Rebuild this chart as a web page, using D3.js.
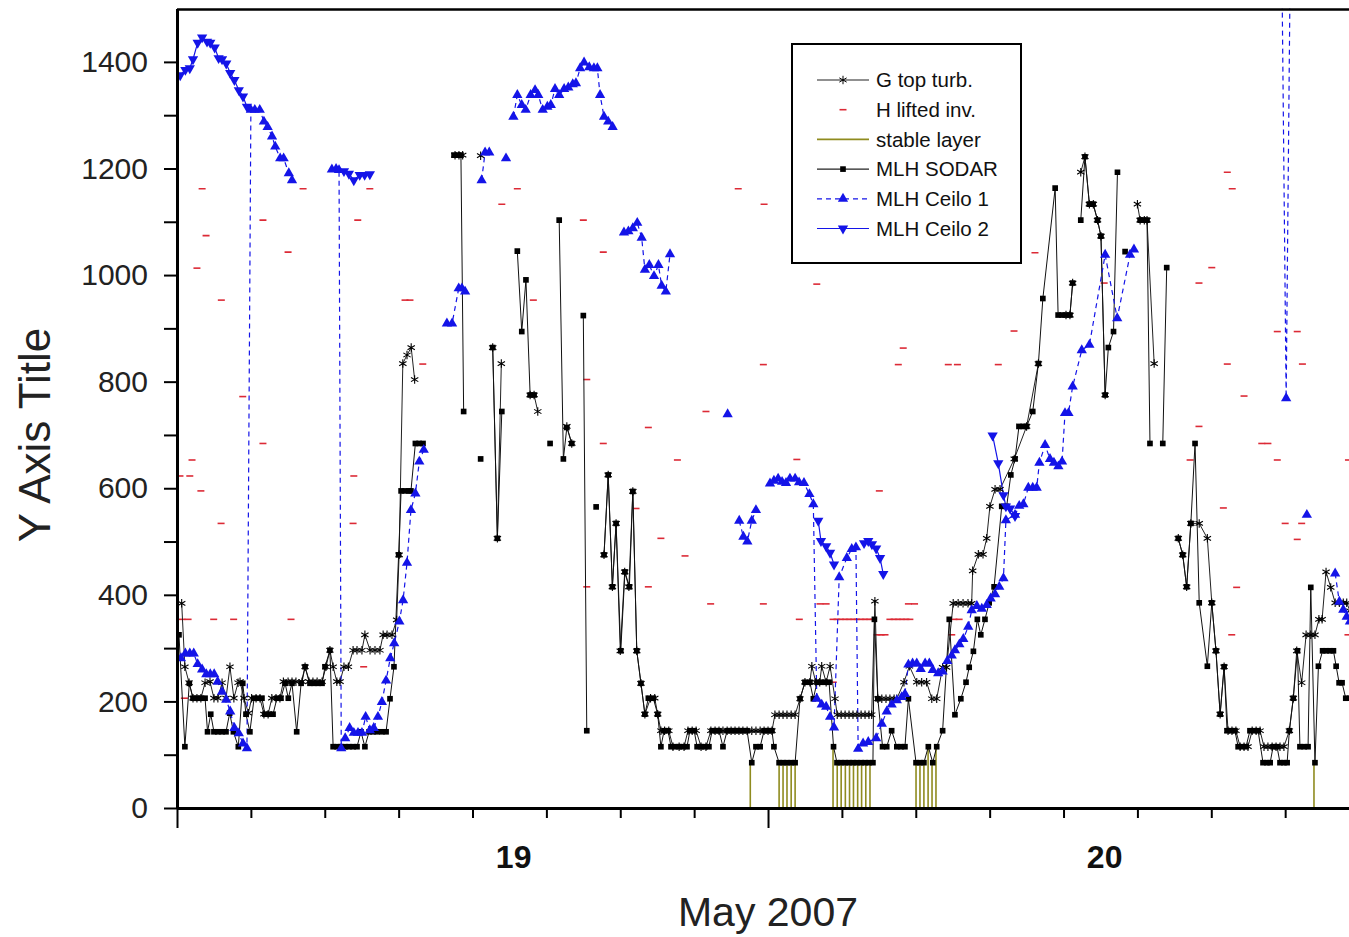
<!DOCTYPE html>
<html>
<head>
<meta charset="utf-8">
<title>MLH May 2007</title>
<style>
  body { margin: 0; background: #fff; }
  text { font-family: 'Liberation Sans', Arial, sans-serif; }
</style>
</head>
<body>
<svg width="1349" height="937"></svg>
<script src="https://cdn.jsdelivr.net/npm/d3@7"></script>
<script>
// x values are hours since the start of the axis, y values are metres; null = gap in the record
var ceilo2 = [
  [0.13,1375],[0.34,1385],[0.52,1388],[0.65,1405],[0.84,1436],[1.02,1446],[1.22,1438],[1.35,1436],[1.53,1427],
  [1.69,1407],[1.83,1405],[2.0,1397],[2.16,1379],[2.33,1366],[2.51,1347],[2.68,1335],[2.84,1316],null,
  [6.78,1195],[6.98,1190],[7.18,1178],[7.42,1188],[7.62,1188],[7.83,1189],null,
  [26.04,539],[26.15,501],[26.36,491],[26.52,479],[26.68,457],null,
  [27.9,497],[28.07,501],[28.22,495],[28.39,487],[28.55,469],[28.68,439],null,
  [33.12,699],[33.35,647],[33.56,587],[33.66,566],[33.83,562],[34.03,548]
];

var ceilo1 = [
  [0.16,281],[0.34,290],[0.52,290],[0.68,290],[0.84,270],[1.02,260],[1.19,251],[1.35,251],[1.51,251],[1.65,237],
  [1.83,218],[2.0,203],[2.16,181],[2.33,150],[2.51,140],[2.68,121],[2.84,112],[3.0,1310],[3.16,1310],[3.36,1310],
  [3.53,1288],[3.68,1278],[3.86,1260],[3.99,1241],[4.19,1219],[4.33,1219],[4.54,1191],[4.67,1178],null,
  [6.29,1198],[6.46,1199],[6.58,1197],[6.67,112],[6.83,131],[7.01,150],[7.18,141],[7.35,141],[7.51,141],[7.66,171],
  [7.83,146],[7.99,150],[8.16,171],[8.32,199],[8.49,239],[8.66,281],[8.82,309],[9.03,350],[9.18,390],[9.34,460],
  [9.5,559],[9.68,590],[9.84,650],[10.02,672],null,
  [10.96,909],[11.17,909],[11.44,975],[11.57,975],[11.7,969],null,
  [12.37,1178],[12.51,1230],[12.68,1230],null,
  [13.36,1219],null,
  [13.66,1297],[13.82,1338],[14.0,1319],[14.16,1310],[14.36,1338],[14.54,1347],[14.67,1338],[14.85,1310],[15.04,1316],
  [15.18,1319],[15.35,1349],[15.52,1338],[15.72,1349],[15.89,1352],[16.07,1358],[16.2,1360],[16.37,1388],[16.53,1399],
  [16.74,1390],[16.93,1388],[17.07,1388],[17.18,1338],[17.34,1297],[17.51,1288],[17.69,1278],null,
  [18.15,1080],[18.33,1082],[18.51,1088],[18.69,1098],[18.87,1070],[19.0,1010],[19.18,1019],[19.37,998],[19.55,1019],
  [19.68,980],[19.85,969],[20.02,1039],null,
  [22.36,739],null,
  [22.83,539],[23.0,509],[23.16,500],[23.34,539],[23.51,559],null,
  [24.08,609],[24.24,614],[24.41,618],[24.57,612],[24.73,610],[24.89,618],[25.1,618],[25.26,611],[25.46,610],[25.68,589],
  [25.84,570],[25.98,205],[26.18,194],[26.36,190],[26.52,171],[26.68,151],[26.89,433],[27.2,469],[27.4,486],[27.57,489],
  [27.66,111],[27.86,121],[28.07,124],[28.39,131],[28.62,158],[28.82,181],[29.02,194],[29.23,202],[29.43,208],[29.56,214],
  [29.7,269],[29.87,271],[30.04,271],[30.2,261],[30.38,271],[30.55,271],[30.69,259],[30.91,253],[31.09,256],[31.28,276],
  [31.46,286],[31.59,296],[31.77,307],[31.93,317],[32.13,340],[32.27,371],[32.48,379],[32.68,374],[32.88,381],[33.04,393],
  [33.22,401],[33.39,415],[33.56,431],[33.66,540],[34.03,550],[34.2,567],[34.37,570],[34.57,601],[34.75,601],[34.91,601],
  [35.02,648],[35.25,681],[35.45,655],[35.61,648],[35.79,641],[35.94,650],[36.06,741],[36.2,741],[36.37,791],[36.74,859],
  [37.05,869],[37.69,1038],[38.18,919],[38.7,1038],[38.86,1048],null,
  [44.87,1560],[45.04,769],[45.2,1560],null,
  [45.88,550],null,
  [47.03,440],[47.2,387],[47.36,372],[47.5,359],[47.63,350]
];

var sodar = [
  [0.08,325],[0.32,115],[0.5,234],[0.65,206],[0.81,206],[0.97,206],[1.14,206],[1.24,143],[1.37,176],[1.5,143],[1.66,143],
  [1.83,143],[1.99,143],[2.14,178],[2.29,143],[2.49,115],[2.67,234],[2.8,176],[2.96,143],[3.13,206],[3.29,206],[3.45,206],
  [3.57,176],[3.74,176],[3.9,176],[4.06,206],[4.22,206],[4.39,234],[4.52,206],[4.67,234],[4.86,143],[5.04,234],[5.2,265],
  [5.4,234],[5.56,234],[5.73,234],[5.89,234],[6.01,265],[6.21,296],[6.34,115],[6.5,115],[6.66,115],[6.82,115],[6.98,115],
  [7.15,115],[7.31,115],[7.47,143],[7.63,115],[7.8,143],[7.96,143],[8.12,143],[8.32,143],[8.49,143],[8.65,205],[8.81,265],
  [9.0,475],[9.1,595],[9.26,595],[9.42,595],[9.5,595],[9.68,684],[9.83,684],[9.99,684],null,
  [11.25,1225],[11.41,1225],[11.53,1225],[11.64,744],null,
  [12.33,655],null,
  [12.82,864],[13.01,506],[13.19,744],null,
  [13.82,1045],[14.0,894],[14.17,991],[14.34,775],[14.5,775],null,
  [15.15,684],null,
  [15.52,1103],[15.69,655],[15.83,714],[16.03,684],null,
  [16.5,924],[16.64,145],null,
  [17.02,565],null,
  [17.34,475],[17.51,625],[17.68,415],[17.83,534],[18.02,295],[18.19,443],[18.37,415],[18.51,594],[18.67,295],[18.84,234],
  [19.0,176],[19.14,206],[19.34,206],[19.52,176],[19.65,115],[19.78,145],[19.94,145],[20.06,115],[20.22,115],[20.39,115],
  [20.55,115],[20.71,115],[20.83,145],[21.0,145],[21.12,115],[21.28,115],[21.44,115],[21.6,115],[21.73,145],[21.89,145],
  [22.01,145],[22.17,115],[22.34,145],[22.5,145],[22.66,145],[22.82,145],[22.98,145],[23.15,145],[23.34,85],[23.51,115],
  [23.68,115],[23.84,145],[24.0,145],[24.16,145],[24.24,115],[24.45,85],[24.61,85],[24.77,85],[24.94,85],[25.1,85],
  [25.3,205],[25.5,236],[25.7,236],[25.84,205],[25.99,236],[26.15,236],[26.32,236],[26.48,236],[26.66,115],[26.8,85],
  [26.96,85],[27.13,85],[27.29,85],[27.45,85],[27.61,85],[27.78,85],[27.94,85],[28.1,85],[28.26,85],[28.32,354],
  [28.46,205],[28.65,115],[28.82,115],[29.02,145],[29.23,115],[29.4,115],[29.56,115],[29.7,205],[30.01,85],[30.17,85],
  [30.33,85],[30.51,115],[30.69,85],[30.85,115],[31.09,145],[31.36,354],[31.59,175],[31.83,205],[32.04,236],[32.17,264],
  [32.34,294],[32.5,354],[32.64,325],[32.81,354],[32.98,385],[33.18,415],[33.49,566],[33.69,566],[33.86,625],[34.03,655],
  [34.19,716],[34.36,716],[34.5,716],[34.75,744],[34.98,834],[35.16,956],[35.66,1163],[35.78,925],[35.94,925],[36.1,925],
  [36.26,925],[36.37,985],null,
  [36.7,1103],[36.87,1222],[37.05,1133],[37.2,1133],[37.38,1103],[37.52,1073],[37.69,775],[37.82,864],[38.03,894],[38.19,1193],null,
  [38.5,1044],null,
  [39.11,1103],[39.24,1103],[39.39,1103],[39.51,684],null,
  [40.03,684],[40.19,1014],null,
  [40.66,506],[40.84,475],[41.0,415],[41.17,534],[41.34,684],[41.51,385],[41.84,266],[42.02,385],[42.19,295],[42.36,176],
  [42.52,265],[42.64,145],[42.8,145],[42.96,145],[43.09,115],[43.25,115],[43.41,115],[43.57,145],[43.74,145],[43.9,145],
  [44.1,85],[44.26,85],[44.39,85],[44.51,115],[44.67,115],[44.79,85],[44.95,85],[45.08,85],[45.17,145],[45.33,206],
  [45.5,295],[45.6,115],[45.77,115],[45.93,115],[46.04,414],[46.21,85],[46.35,266],[46.52,295],[46.66,295],[46.82,295],
  [46.96,295],[47.07,266],[47.19,235],[47.31,235],[47.46,206],[47.63,206]
];

var gTop = [
  [0.19,384],[0.32,265],[0.49,235],[0.65,206],[0.81,206],[0.97,206],[1.14,235],[1.34,237],[1.5,206],[1.66,206],[1.83,235],
  [1.99,206],[2.15,265],[2.31,206],[2.48,235],[2.56,237],[2.72,206],[2.9,178],[3.03,206],[3.21,206],[3.37,206],[3.53,176],
  [3.7,176],[3.85,206],[4.02,206],[4.18,206],[4.32,237],[4.51,237],[4.67,237],[4.83,237],[5.08,237],[5.2,265],[5.36,237],
  [5.52,237],[5.69,237],[5.89,237],[6.05,265],[6.21,296],[6.34,265],[6.49,237],[6.62,237],[6.78,265],[6.96,265],[7.15,296],
  [7.31,296],[7.51,296],[7.63,325],[7.84,296],[8.04,296],[8.24,296],[8.37,325],[8.53,325],[8.73,325],[8.92,353],[9.02,475],
  [9.17,834],[9.34,850],[9.51,864],[9.65,804],null,
  [11.29,1225],[11.45,1225],[11.6,1225],null,
  [12.33,1224],null,
  [12.82,864],[13.01,506],[13.17,834],null,
  [14.34,775],[14.5,775],[14.65,744],null,
  [15.83,716],[16.03,684],null,
  [17.34,475],[17.51,625],[17.68,415],[17.83,534],[18.0,295],[18.18,443],[18.35,415],[18.51,594],[18.67,295],[18.84,234],
  [19.0,176],[19.23,206],[19.4,206],[19.52,176],[19.65,145],[19.8,145],[19.97,145],[20.14,115],[20.39,115],[20.59,115],
  [20.75,145],[20.92,145],[21.08,145],[21.28,115],[21.48,115],[21.68,145],[21.85,145],[22.01,145],[22.17,145],[22.34,145],
  [22.5,145],[22.66,145],[22.82,145],[22.98,145],[23.15,145],[23.34,145],[23.51,145],[23.68,145],[23.84,145],[24.0,145],
  [24.16,145],[24.28,175],[24.45,175],[24.61,175],[24.77,175],[24.94,175],[25.1,175],[25.3,205],[25.5,236],[25.7,236],
  [25.78,266],[25.94,236],[26.1,236],[26.18,266],[26.36,236],[26.52,266],[26.72,205],[26.81,175],[26.97,175],[27.13,175],
  [27.29,175],[27.45,175],[27.61,175],[27.78,175],[27.94,175],[28.1,175],[28.21,175],[28.34,388],[28.46,205],[28.62,205],
  [28.79,205],[28.95,205],[29.12,205],[29.23,205],[29.52,236],[29.74,266],[30.04,236],[30.24,236],[30.44,236],[30.65,205],
  [30.85,205],[31.09,264],[31.25,264],[31.52,384],[31.72,384],[31.92,384],[32.12,384],[32.27,384],[32.31,445],[32.54,476],
  [32.73,476],[32.88,506],[33.01,566],[33.22,598],[33.42,598],[34.0,655],[34.5,716],[34.98,834],null,
  [36.1,925],[36.26,925],[36.37,985],null,
  [36.7,1193],[36.87,1222],[37.05,1133],[37.21,1133],[37.38,1103],[37.52,1073],[37.69,775],null,
  [39.0,1133],[39.11,1103],[39.28,1103],[39.39,1103],[39.68,834],null,
  [40.66,506],[40.84,475],[41.0,415],[41.17,534],[41.51,534],[41.84,506],[42.02,385],[42.19,295],[42.36,176],[42.52,265],
  [42.68,145],[42.84,145],[43.0,145],[43.17,115],[43.33,115],[43.49,115],[43.66,145],[43.82,145],[43.98,145],[44.14,115],
  [44.3,115],[44.47,115],[44.63,115],[44.79,115],[44.95,115],[45.17,145],[45.33,206],[45.47,295],[45.67,235],[45.85,325],
  [46.04,325],[46.21,325],[46.37,354],[46.5,354],[46.66,443],[46.85,414],[47.03,385],[47.2,385],[47.36,385],[47.5,385],[47.63,370]
];

var hLifted = [
  [1.02,1162],[1.18,1074],[0.81,1013],[1.8,953],[2.67,772],[3.49,1103],[4.51,1043],[5.12,1162],[7.83,1162],[7.34,1103],
  [9.26,953],[9.46,953],[9.98,833],[3.49,684],[0.61,653],[0.12,623],[0.52,623],[0.97,595],[1.79,534],[7.18,623],[7.15,534],
  [0.2,354],[0.45,354],[1.49,354],[2.3,354],[4.63,354],[7.58,265],[0.3,206],
  [13.82,1162],[13.19,1133],[16.5,1103],[17.31,1043],[14.47,953],[16.64,804],[22.79,1162],[23.84,1133],[21.48,744],
  [19.14,714],[17.31,684],[20.32,653],[18.64,562],[19.65,506],[20.63,473],[16.64,415],[19.14,415],[21.67,383],
  [34.84,1042],[25.98,983],[33.99,895],[29.49,863],[23.81,832],[29.29,832],[31.32,832],[31.69,832],[33.35,832],
  [25.17,654],[28.52,595],[23.81,383],[26.11,383],[26.36,383],[29.7,383],[29.95,383],[25.27,354],
  [26.64,354],[26.8,354],[26.96,354],[27.13,354],[27.29,354],[27.45,354],[27.61,354],[27.78,354],[27.94,354],[28.1,354],[28.26,354],
  [28.95,354],[29.12,354],[29.28,354],[29.44,354],[29.6,354],[29.76,354],[28.43,325],[28.59,325],[28.75,325],
  [31.55,354],[31.76,354],[31.46,325],[26.65,236],
  [42.65,1193],[42.85,1162],[42.02,1014],[41.5,985],[37.65,985],[44.68,894],[45.49,894],[42.65,833],[45.7,833],[43.33,773],
  [41.5,716],[44.05,684],[44.3,684],[41.14,653],[44.68,653],[47.57,653],[42.49,563],[45.0,534],[45.67,534],[45.49,504],
  [43.03,414],[42.83,325],[47.55,325]
];

var stable = [
  [23.28,85],[24.45,85],[24.61,85],[24.77,85],[24.94,85],[25.1,85],
  [26.64,115],[26.81,85],[26.97,85],[27.14,85],[27.31,85],[27.47,85],[27.64,85],[27.8,85],[27.97,85],[28.14,85],
  [30.01,85],[30.17,85],[30.33,85],[30.5,115],[30.66,85],[30.82,115],[46.17,85]
];

var yTicks = [0, 200, 400, 600, 800, 1000, 1200, 1400];
var yMinorTicks = [100, 300, 500, 700, 900, 1100, 1300];
var xMajorTicks = [0, 24, 48];
var xMinorTicks = [3, 6, 9, 12, 15, 18, 21, 27, 30, 33, 36, 39, 42, 45];
var dayLabelHours = [13.65, 37.65];
var dayLabels = ["19", "20"];
var legendLabels = ["G top turb.", "H lifted inv.", "stable layer", "MLH SODAR", "MLH Ceilo 1", "MLH Ceilo 2"];

var svg = d3.select("svg");
var blue = "#1414e8", red = "#dc2a36", olive = "#8f8b1f";

var x = d3.scaleLinear().domain([0, 48.12]).range([177, 1362]);
var y = d3.scaleLinear().domain([0, 1500]).range([808, 8.6]);

svg.append("clipPath").attr("id", "plot")
  .append("rect").attr("x", 177).attr("y", 8.6).attr("width", 1185).attr("height", 800);

var g = svg.append("g").attr("clip-path", "url(#plot)");

var line = d3.line().defined(function(d) { return d !== null; })
  .x(function(d) { return x(d[0]); }).y(function(d) { return y(d[1]); });
function pts(arr) { return arr.filter(function(d) { return d !== null && d[1] <= 1500; }); }

// stable layer: drop lines from the ground
g.selectAll(".stable").data(stable).enter().append("line")
  .attr("x1", function(d) { return x(d[0]); }).attr("x2", function(d) { return x(d[0]); })
  .attr("y1", y(0)).attr("y2", function(d) { return y(d[1]); })
  .attr("stroke", olive).attr("stroke-width", 1.6);

// lifted inversion: short red dashes
g.selectAll(".hdash").data(hLifted).enter().append("line")
  .attr("x1", function(d) { return x(d[0]) - 3.5; }).attr("x2", function(d) { return x(d[0]) + 3.5; })
  .attr("y1", function(d) { return y(d[1]); }).attr("y2", function(d) { return y(d[1]); })
  .attr("stroke", red).attr("stroke-width", 1.6);

g.append("path").datum(gTop).attr("d", line).attr("fill", "none").attr("stroke", "#222").attr("stroke-width", 1);
g.append("path").datum(sodar).attr("d", line).attr("fill", "none").attr("stroke", "#111").attr("stroke-width", 1);
g.append("path").datum(ceilo1).attr("d", line).attr("fill", "none").attr("stroke", blue)
  .attr("stroke-width", 1.2).attr("stroke-dasharray", "5,4");
g.append("path").datum(ceilo2).attr("d", line).attr("fill", "none").attr("stroke", blue).attr("stroke-width", 1.2);

var star = d3.symbol().type(d3.symbolAsterisk).size(50);
var square = d3.symbol().type(d3.symbolSquare).size(32);
var tri = d3.symbol().type(d3.symbolTriangle).size(46);

g.selectAll(".gm").data(pts(gTop)).enter().append("path")
  .attr("d", star).attr("transform", function(d) { return "translate(" + x(d[0]) + "," + y(d[1]) + ")"; })
  .attr("fill", "none").attr("stroke", "#000").attr("stroke-width", 1.1);
g.selectAll(".sm").data(pts(sodar)).enter().append("path")
  .attr("d", square).attr("transform", function(d) { return "translate(" + x(d[0]) + "," + y(d[1]) + ")"; })
  .attr("fill", "#000");
g.selectAll(".c1").data(pts(ceilo1)).enter().append("path")
  .attr("d", tri).attr("transform", function(d) { return "translate(" + x(d[0]) + "," + y(d[1]) + ")"; })
  .attr("fill", blue);
g.selectAll(".c2").data(pts(ceilo2)).enter().append("path")
  .attr("d", tri).attr("transform", function(d) { return "translate(" + x(d[0]) + "," + y(d[1]) + ") rotate(180)"; })
  .attr("fill", blue);

// axes
function styleAxis(sel, w) {
  sel.select(".domain").attr("stroke", "#000").attr("stroke-width", w);
  sel.selectAll(".tick line").attr("stroke", "#000").attr("stroke-width", 2);
}
var yAx = svg.append("g").attr("transform", "translate(177,0)")
  .call(d3.axisLeft(y).tickValues(yTicks).tickSize(13).tickSizeOuter(0).tickPadding(16).tickFormat(d3.format("d")));
styleAxis(yAx, 3);
yAx.selectAll("text").attr("font-size", 30).attr("fill", "#222")
  .style("font-family", "'Liberation Sans', Arial, sans-serif");
var yMin = svg.append("g").attr("transform", "translate(177,0)")
  .call(d3.axisLeft(y).tickValues(yMinorTicks).tickSize(13).tickFormat(""));
yMin.select(".domain").remove();
yMin.selectAll(".tick line").attr("stroke", "#000").attr("stroke-width", 2);

var xMaj = svg.append("g").attr("transform", "translate(0,808)")
  .call(d3.axisBottom(x).tickValues(xMajorTicks).tickSize(20).tickSizeOuter(0).tickFormat(""));
styleAxis(xMaj, 3);
var xMin = svg.append("g").attr("transform", "translate(0,808)")
  .call(d3.axisBottom(x).tickValues(xMinorTicks).tickSize(10).tickFormat(""));
xMin.select(".domain").remove();
xMin.selectAll(".tick line").attr("stroke", "#000").attr("stroke-width", 2);
var xLab = svg.append("g").attr("transform", "translate(0,808)")
  .call(d3.axisBottom(x).tickValues(dayLabelHours).tickSize(0).tickPadding(37)
    .tickFormat(function(d, i) { return dayLabels[i]; }));
xLab.select(".domain").remove();
xLab.selectAll("text").attr("font-size", 32).attr("font-weight", "bold").attr("fill", "#111")
  .style("font-family", "'Liberation Sans Narrow', 'Arial Narrow', 'Liberation Sans', sans-serif");

// top frame line
svg.append("line").attr("x1", 177).attr("x2", 1349).attr("y1", y(1500) + 1).attr("y2", y(1500) + 1)
  .attr("stroke", "#000").attr("stroke-width", 2.5);

svg.append("text").attr("transform", "translate(50,435) rotate(-90)")
  .attr("text-anchor", "middle").attr("font-size", 44).attr("fill", "#222").text("Y Axis Title");
svg.append("text").attr("x", 768).attr("y", 926)
  .attr("text-anchor", "middle").attr("font-size", 41).attr("fill", "#222").text("May 2007");

// legend
var leg = svg.append("g");
leg.append("rect").attr("x", 792).attr("y", 44).attr("width", 229).attr("height", 219)
  .attr("fill", "#fff").attr("stroke", "#000").attr("stroke-width", 2);
legendLabels.forEach(function(lbl, i) {
  var ry = 80 + i * 29.7, cx = 843;
  if (i === 1) {
    leg.append("line").attr("x1", cx - 3.5).attr("x2", cx + 3.5).attr("y1", ry).attr("y2", ry)
      .attr("stroke", red).attr("stroke-width", 1.6);
  } else {
    var col = i === 2 ? olive : (i >= 4 ? blue : "#222");
    var ln = leg.append("line").attr("x1", 817).attr("x2", 869).attr("y1", ry).attr("y2", ry)
      .attr("stroke", col).attr("stroke-width", i === 2 ? 1.6 : 1.2);
    if (i === 4) ln.attr("stroke-dasharray", "5,4");
  }
  var tf = "translate(" + cx + "," + ry + ")";
  if (i === 0) leg.append("path").attr("d", star).attr("transform", tf).attr("fill", "none").attr("stroke", "#000");
  if (i === 3) leg.append("path").attr("d", square).attr("transform", tf).attr("fill", "#000");
  if (i === 4) leg.append("path").attr("d", tri).attr("transform", tf).attr("fill", blue);
  if (i === 5) leg.append("path").attr("d", tri).attr("transform", tf + " rotate(180)").attr("fill", blue);
  leg.append("text").attr("x", 876).attr("y", ry).attr("dy", "0.36em")
    .attr("font-size", 20.5).attr("fill", "#111").text(lbl);
});
</script>
</body>
</html>
